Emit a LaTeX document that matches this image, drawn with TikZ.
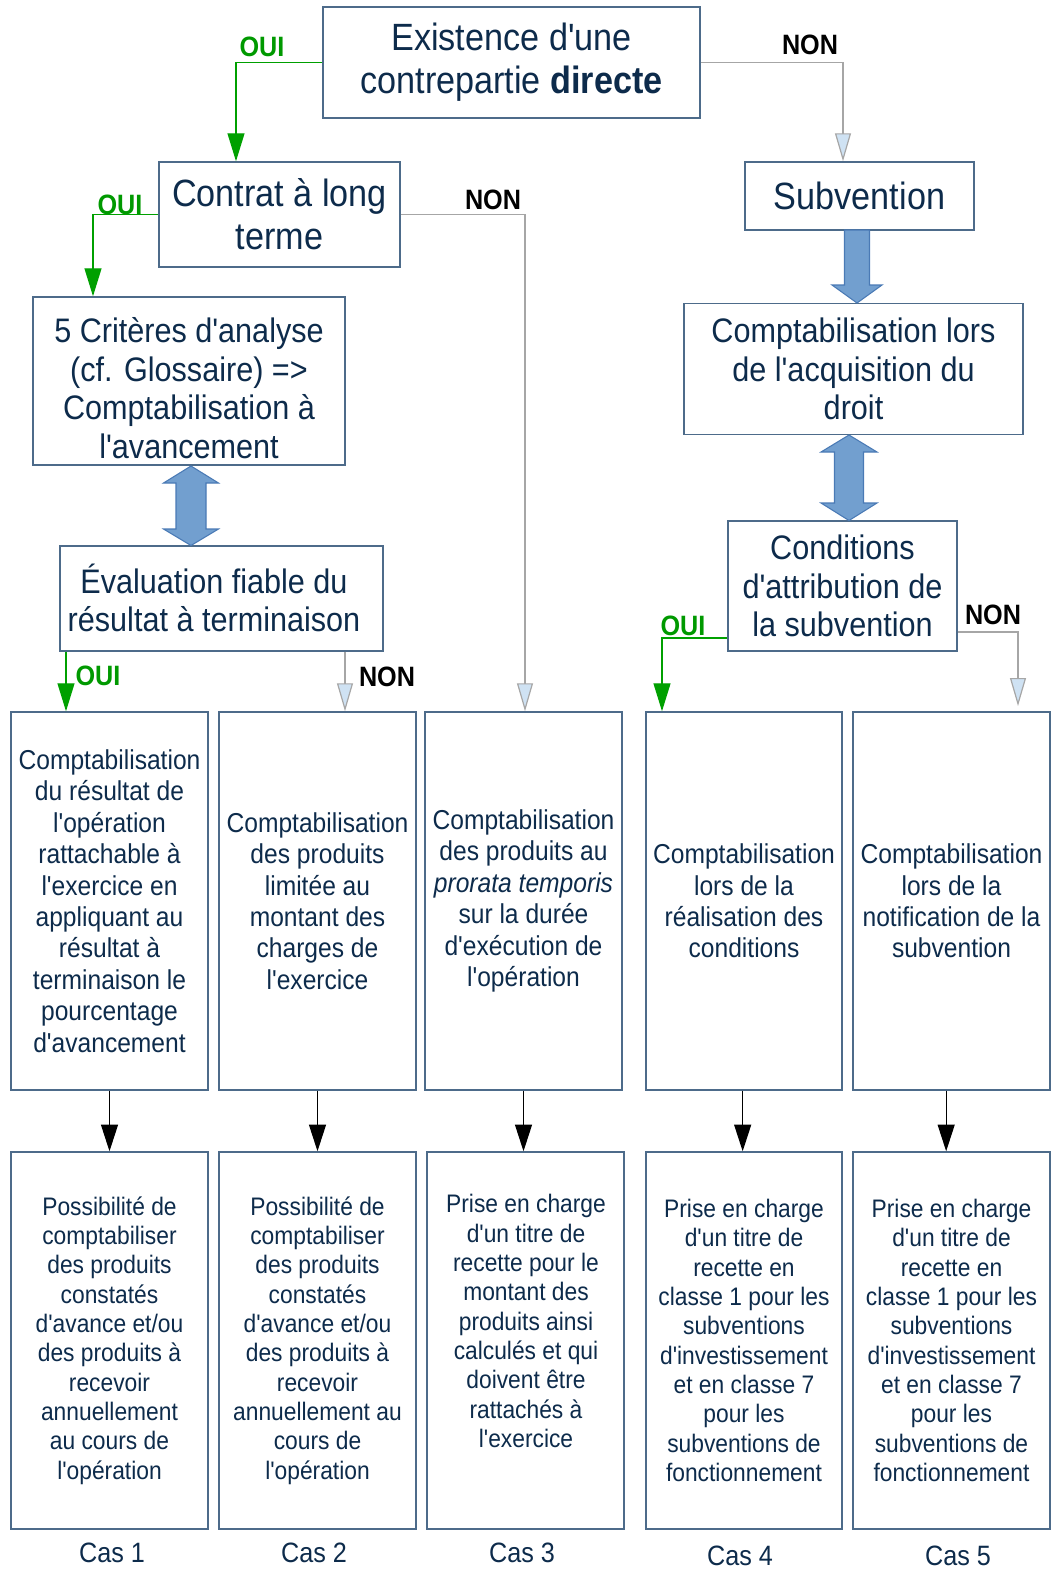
\documentclass[tikz,border=0pt]{standalone}
\usepackage{fontspec}
\setmainfont{Liberation Sans}[FakeStretch=0.9,Ligatures=TeXOff]
\usetikzlibrary{arrows.meta}
\definecolor{txt}{HTML}{0D2B4B}
\definecolor{boxline}{HTML}{4D6B8A}
\definecolor{ouigreen}{HTML}{00A000}
\definecolor{ouitxt}{HTML}{009900}
\definecolor{nonline}{HTML}{A6A6A6}
\definecolor{nonfill}{HTML}{CFE2F3}
\definecolor{blockfill}{HTML}{729FCF}
\definecolor{blockline}{HTML}{4A7AB5}
\tikzset{
  box/.style={draw=boxline, line width=1.1pt, inner sep=0pt, align=center, text=txt},
  wh/.style 2 args={minimum width=#1*0.75pt, minimum height=#2*0.75pt},
  tx/.style={align=center, text=txt, inner sep=0pt},
  bigf/.style={font=\fontsize{28.5}{32.5}\selectfont},
  medf/.style={font=\fontsize{25.5}{29}\selectfont},
  rowaf/.style={font=\fontsize{20.5}{23.6}\selectfont},
  rowbf/.style={font=\fontsize{19}{22}\selectfont},
  ouiarrow/.style={draw=ouigreen, line width=0.9pt, -{Triangle[length=21pt,width=12.75pt]}},
  nonarrow/.style={draw=nonline, line width=0.9pt, -{Triangle[length=21pt,width=12pt,fill=nonfill]}},
  blackarrow/.style={draw=black, line width=0.9pt, -{Triangle[length=20pt,width=12.75pt]}},
  ouilab/.style={text=ouitxt, font=\fontsize{21}{24}\selectfont\bfseries},
  nonlab/.style={text=black, font=\fontsize{21}{24}\selectfont\bfseries},
  caslab/.style={text=txt, font=\fontsize{21}{24}\selectfont},
  blockarrow/.style={fill=blockfill, draw=blockline, line width=0.8pt, line join=miter}
}
\begin{document}
\begin{tikzpicture}[x=0.75pt,y=-0.75pt]
\useasboundingbox (0,0) rectangle (1053,1571);

% top-level boxes
\node[box,bigf,wh={377}{111}] (top) at (511.5,62.5) {Existence d'une\\contrepartie \textbf{directe}};
\node[box,bigf,wh={241}{105}] (contrat) at (279.5,214.5) {Contrat à long\\terme};
\node[box,bigf,wh={229}{68}] (subv) at (859.5,196) {Subvention};
\node[box,wh={312}{168}] (crit) at (189,381) {};
\node[tx,medf] (critt) at (189,388) {5 Critères d'analyse\\(cf. Glossaire) =>\\Comptabilisation à\\l'avancement};
\node[box,medf,wh={339}{131}] (acq) at (853.5,369) {Comptabilisation lors\\de l'acquisition du\\droit};
\node[box,wh={323}{105}] (eval) at (221.5,598.5) {};
\node[tx,medf] (evalt) at (214,598) {Évaluation fiable du\\résultat à terminaison};
\node[box,medf,wh={229}{130}] (cond) at (842.5,586) {Conditions\\d'attribution de\\la subvention};

% row 1
\node[box,rowaf,wh={197}{378}] (r1) at (109.5,901) {Comptabilisation\\du résultat de\\l'opération\\rattachable à\\l'exercice en\\appliquant au\\résultat à\\terminaison le\\pourcentage\\d'avancement};
\node[box,rowaf,wh={197}{378}] (r2) at (317.5,901) {Comptabilisation\\des produits\\limitée au\\montant des\\charges de\\l'exercice};
\node[box,rowaf,wh={197}{378}] (r3) at (523.5,901) {Comptabilisation\\des produits au\\\textit{prorata temporis}\\sur la durée\\d'exécution de\\l'opération};
\node[box,rowaf,wh={196}{378}] (r4) at (744,901) {Comptabilisation\\lors de la\\réalisation des\\conditions};
\node[box,rowaf,wh={197}{378}] (r5) at (951.5,901) {Comptabilisation\\lors de la\\notification de la\\subvention};

% row 2
\node[box,rowbf,wh={197}{377}] (b1) at (109.5,1340.5) {Possibilité de\\comptabiliser\\des produits\\constatés\\d'avance et/ou\\des produits à\\recevoir\\annuellement\\au cours de\\l'opération};
\node[box,rowbf,wh={197}{377}] (b2) at (317.5,1340.5) {Possibilité de\\comptabiliser\\des produits\\constatés\\d'avance et/ou\\des produits à\\recevoir\\annuellement au\\cours de\\l'opération};
\node[box,wh={197}{377}] (b3) at (525.5,1340.5) {};
\node[tx,rowbf] (b3t) at (526,1321) {Prise en charge\\d'un titre de\\recette pour le\\montant des\\produits ainsi\\calculés et qui\\doivent être\\rattachés à\\l'exercice};
\node[box,rowbf,wh={196}{377}] (b4) at (744,1340.5) {Prise en charge\\d'un titre de\\recette en\\classe 1 pour les\\subventions\\d'investissement\\et en classe 7\\pour les\\subventions de\\fonctionnement};
\node[box,rowbf,wh={197}{377}] (b5) at (951.5,1340.5) {Prise en charge\\d'un titre de\\recette en\\classe 1 pour les\\subventions\\d'investissement\\et en classe 7\\pour les\\subventions de\\fonctionnement};

% helper coordinates
\coordinate (x236) at (236,0);
\coordinate (x843) at (843,0);
\coordinate (x93) at (93,0);
\coordinate (x525) at (525,0);
\coordinate (x66) at (66,0);
\coordinate (x345) at (345,0);
\coordinate (x662) at (662,0);
\coordinate (y638) at (0,638);
\coordinate (y632) at (0,632);
\coordinate (nonend) at (1018,706);

% connectors
\draw[ouiarrow] (top.west) -| (x236 |- contrat.north);
\draw[nonarrow] (top.east) -| (x843 |- subv.north);
\draw[ouiarrow] (contrat.west) -| (x93 |- crit.north);
\draw[nonarrow] (contrat.east) -| (x525 |- r3.north);
\draw[ouiarrow] (x66 |- eval.south) -- (x66 |- r1.north);
\draw[nonarrow] (x345 |- eval.south) -- (x345 |- r2.north);
\draw[ouiarrow] (cond.west |- y638) -| (x662 |- r4.north);
\draw[nonarrow] (cond.east |- y632) -| (nonend);

\draw[blackarrow] (r1.south) -- (b1.north);
\draw[blackarrow] (r2.south) -- (b2.north);
\draw[blackarrow] (r3.south) -- (r3.south |- b3.north);
\draw[blackarrow] ([xshift=-1pt]r4.south) -- ([xshift=-1pt]b4.north);
\draw[blackarrow] ([xshift=-4pt]r5.south) -- ([xshift=-4pt]b5.north);

% block arrows
\draw[blockarrow] (191,466) -- (218.5,483) -- (206,483) -- (206,529) -- (218.5,529) -- (191,545.5) -- (163.5,529) -- (176,529) -- (176,483) -- (163.5,483) -- cycle;
\draw[blockarrow] (849,435) -- (877,452) -- (863.5,452) -- (863.5,503) -- (877,503) -- (849,520.5) -- (821,503) -- (834.5,503) -- (834.5,452) -- (821,452) -- cycle;
\draw[blockarrow] (844.5,230) -- (869.5,230) -- (869.5,285) -- (882,285) -- (857,303) -- (832,285) -- (844.5,285) -- cycle;

% labels
\node[ouilab] (l1) at (262,47) {OUI};
\node[nonlab] (l2) at (810,45) {NON};
\node[ouilab] (l3) at (120,205) {OUI};
\node[nonlab] (l4) at (493,200) {NON};
\node[ouilab] (l5) at (98,676) {OUI};
\node[nonlab] (l6) at (387,677) {NON};
\node[ouilab] (l7) at (683,626) {OUI};
\node[nonlab] (l8) at (993,615) {NON};

\node[caslab] (c1) at (112,1553) {Cas 1};
\node[caslab] (c2) at (314,1553) {Cas 2};
\node[caslab] (c3) at (522,1553) {Cas 3};
\node[caslab] (c4) at (740,1556) {Cas 4};
\node[caslab] (c5) at (958,1556) {Cas 5};
\end{tikzpicture}
\end{document}
